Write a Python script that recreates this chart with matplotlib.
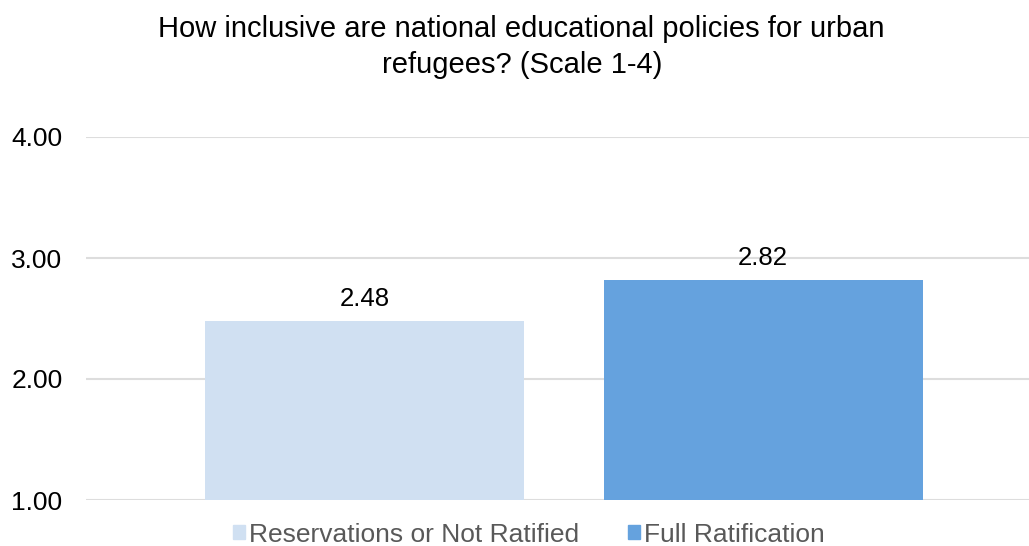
import matplotlib
matplotlib.use("Agg")
import matplotlib.pyplot as plt
from matplotlib.patches import Patch

plt.rcParams["font.family"] = ["Liberation Sans", "DejaVu Sans"]

# scores on the 1-4 scale
groups = ["Reservations or Not Ratified", "Full Ratification"]
scores = [2.48, 2.82]
colors = ["#D0E0F2", "#65A2DE"]
yticks = [1.0, 2.0, 3.0, 4.0]

fig = plt.figure(figsize=(10.29, 5.46), dpi=100)
ax = fig.add_axes([86 / 1029, 46 / 546, 943 / 1029, 363 / 546])

xs = list(range(len(scores)))
ax.bar(xs, [s - 1 for s in scores], bottom=1, width=0.8, color=colors, zorder=3)
for x, s in zip(xs, scores):
    ax.text(x, s + 0.08, f"{s:.2f}", ha="center", va="bottom", fontsize=18.5)

ax.set_xlim(-0.699, 1.667)
ax.set_ylim(1, 4)
ax.set_yticks(yticks)
ax.set_yticklabels([f"{t:.2f}" for t in yticks], fontsize=19)
ax.yaxis.grid(True, color="#DDDDDD", linewidth=1.5, zorder=0)
ax.set_xticks([])
ax.tick_params(axis="y", length=0, pad=17)
for sp in ax.spines.values():
    sp.set_visible(False)

fig.text(0.507, 0.914, "How inclusive are national educational policies for urban\nrefugees? (Scale 1-4)",
         ha="center", va="center", fontsize=21, linespacing=1.33)

handles = [Patch(color=c) for c in colors]
fig.legend(handles, groups, loc="center", bbox_to_anchor=(0.514, 0.021), ncol=2,
           frameon=False, fontsize=19, labelcolor="#595959", handlelength=0.45,
           handleheight=0.45, handletextpad=0.15, columnspacing=1.85,
           borderpad=0, borderaxespad=0)

fig.savefig("out.png", dpi=100)
